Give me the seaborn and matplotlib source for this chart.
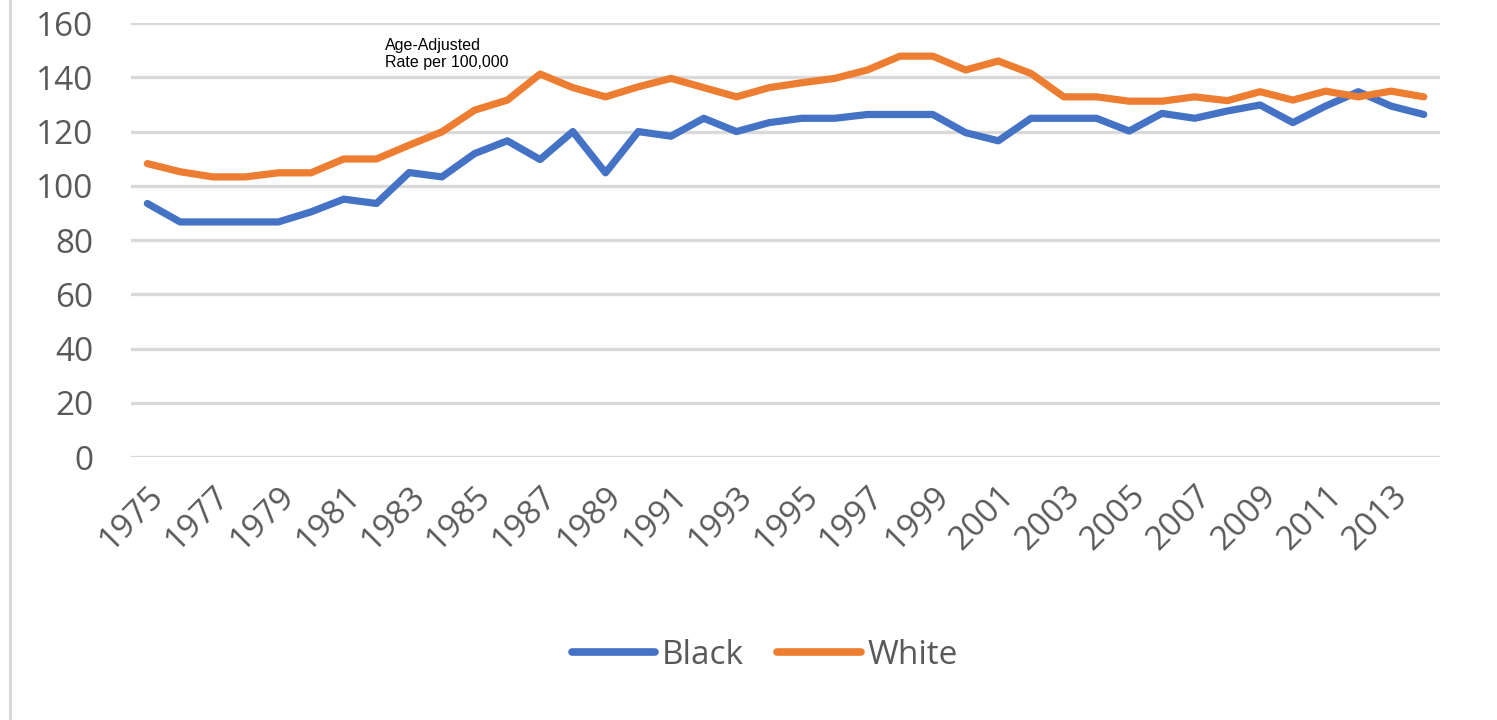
import pandas as pd
import matplotlib
matplotlib.use("Agg")
import matplotlib.pyplot as plt
import seaborn as sns
from matplotlib.lines import Line2D

# ------------------------------------------------------------------
# Data
# ------------------------------------------------------------------
years = list(range(1975, 2015))
black = [93.5, 86.7, 86.7, 86.7, 86.7, 90.4, 95.1, 93.5, 104.9, 103.3,
         111.9, 116.6, 109.7, 120.0, 104.8, 120.0, 118.3, 124.9, 120.0, 123.3,
         124.9, 124.9, 126.3, 126.3, 126.3, 119.6, 116.6, 124.9, 124.9, 124.9,
         120.2, 126.7, 124.9, 127.6, 129.8, 123.3, 129.4, 134.7, 129.4, 126.3]
white = [108.2, 105.2, 103.3, 103.3, 104.8, 104.8, 109.9, 109.9, 115.0, 119.9,
         127.9, 131.6, 141.2, 136.2, 132.8, 136.5, 139.6, 136.2, 132.8, 136.2,
         138.0, 139.6, 142.7, 147.8, 147.8, 142.7, 146.0, 141.4, 132.8, 132.8,
         131.2, 131.2, 132.8, 131.4, 134.7, 131.6, 134.9, 132.8, 134.9, 132.8]
series_names = ["Black", "White"]
tick_years = list(range(1975, 2014, 2))
y_ticks = list(range(0, 161, 20))
note = "Age-Adjusted\nRate per 100,000"

df = pd.DataFrame({
    "Year": years * 2,
    "Rate": black + white,
    "Group": [series_names[0]] * len(years) + [series_names[1]] * len(years),
})

# ------------------------------------------------------------------
# Plot
# ------------------------------------------------------------------
sns.set_style("white")
plt.rcParams["font.family"] = ["Open Sans", "DejaVu Sans"]

fig = plt.figure(figsize=(14.97, 7.2), dpi=100)
ax = fig.add_axes([0.0875, 0.365, 0.8745, 0.603])

palette = {"Black": "#4472C4", "White": "#ED7D31"}
sns.lineplot(data=df, x="Year", y="Rate", hue="Group", palette=palette,
             linewidth=5.2, ax=ax, legend=False, zorder=3,
             solid_capstyle="round", solid_joinstyle="round")

ax.set_xlim(1974.5, 2014.5)
ax.set_ylim(0, 160)
ax.set_yticks(y_ticks)
ax.set_xticks(tick_years)
ax.set_xticklabels([str(y) for y in tick_years], rotation=45, ha="right",
                   rotation_mode="anchor")
ax.tick_params(axis="y", length=0, pad=27, labelsize=24, labelcolor="#595959")
ax.tick_params(axis="x", length=0, pad=16, labelsize=24, labelcolor="#595959")
ax.set_xlabel("")
ax.set_ylabel("")
ax.grid(True, axis="y", color="#d9d9d9", linewidth=2.4, zorder=0)
ax.grid(False, axis="x")
sns.despine(ax=ax, left=True, bottom=True)

ax.text(1982.25, 154.5, note, fontsize=11.5, color="black", va="top", ha="left",
        family="Liberation Sans", linespacing=1.2)

# legend
handles = [Line2D([0], [0], color=palette[n], linewidth=5.5,
                  solid_capstyle="round") for n in series_names]
fig.legend(handles, series_names, loc="center", bbox_to_anchor=(0.511, 0.09),
           ncol=2, frameon=False, fontsize=24, handlelength=2.5,
           handletextpad=0.2, columnspacing=1.0, labelcolor="#595959")

# chart frame edge on the left
fig.add_artist(Line2D([0.007, 0.007], [0, 1], transform=fig.transFigure,
                      color="#d9d9d9", linewidth=2.2))

fig.savefig("out.png", dpi=100, facecolor="white")
